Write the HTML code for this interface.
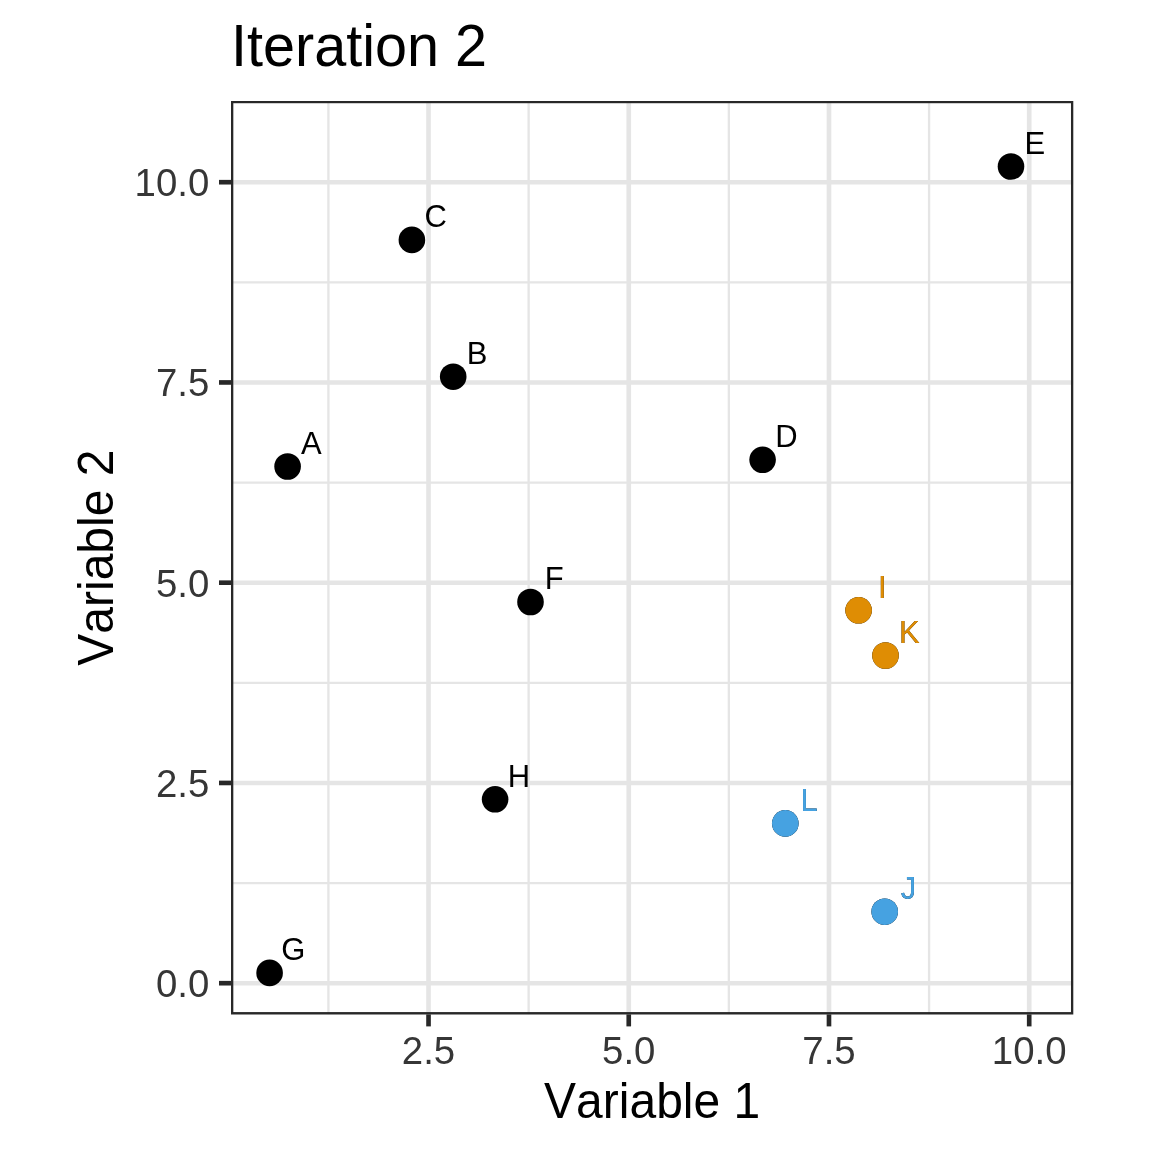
<!DOCTYPE html><html><head><meta charset="utf-8"><title>Iteration 2</title><style>html,body{margin:0;padding:0;background:#fff;}svg{display:block;will-change:transform;}text{font-family:"Liberation Sans",Arial,sans-serif;font-kerning:none;}</style></head><body>
<svg width="1152" height="1152" viewBox="0 0 1152 1152">
<rect x="0" y="0" width="1152" height="1152" fill="#fff"/>
<defs><clipPath id="pc"><rect x="231.0" y="100.9" width="842.30" height="913.50"/></clipPath></defs>
<g clip-path="url(#pc)">
<line x1="328.41" y1="100.9" x2="328.41" y2="1014.4" stroke="#E5E5E5" stroke-width="2.33"/>
<line x1="231.0" y1="883.08" x2="1073.3" y2="883.08" stroke="#E5E5E5" stroke-width="2.33"/>
<line x1="528.64" y1="100.9" x2="528.64" y2="1014.4" stroke="#E5E5E5" stroke-width="2.33"/>
<line x1="231.0" y1="682.83" x2="1073.3" y2="682.83" stroke="#E5E5E5" stroke-width="2.33"/>
<line x1="728.86" y1="100.9" x2="728.86" y2="1014.4" stroke="#E5E5E5" stroke-width="2.33"/>
<line x1="231.0" y1="482.58" x2="1073.3" y2="482.58" stroke="#E5E5E5" stroke-width="2.33"/>
<line x1="929.09" y1="100.9" x2="929.09" y2="1014.4" stroke="#E5E5E5" stroke-width="2.33"/>
<line x1="231.0" y1="282.33" x2="1073.3" y2="282.33" stroke="#E5E5E5" stroke-width="2.33"/>
<line x1="428.53" y1="100.9" x2="428.53" y2="1014.4" stroke="#E5E5E5" stroke-width="4.65"/>
<line x1="628.75" y1="100.9" x2="628.75" y2="1014.4" stroke="#E5E5E5" stroke-width="4.65"/>
<line x1="828.98" y1="100.9" x2="828.98" y2="1014.4" stroke="#E5E5E5" stroke-width="4.65"/>
<line x1="1029.20" y1="100.9" x2="1029.20" y2="1014.4" stroke="#E5E5E5" stroke-width="4.65"/>
<line x1="231.0" y1="983.20" x2="1073.3" y2="983.20" stroke="#E5E5E5" stroke-width="4.65"/>
<line x1="231.0" y1="782.95" x2="1073.3" y2="782.95" stroke="#E5E5E5" stroke-width="4.65"/>
<line x1="231.0" y1="582.70" x2="1073.3" y2="582.70" stroke="#E5E5E5" stroke-width="4.65"/>
<line x1="231.0" y1="382.45" x2="1073.3" y2="382.45" stroke="#E5E5E5" stroke-width="4.65"/>
<line x1="231.0" y1="182.20" x2="1073.3" y2="182.20" stroke="#E5E5E5" stroke-width="4.65"/>
<circle cx="287.6" cy="466.5" r="13.3" fill="#000"/>
<circle cx="453.2" cy="376.7" r="13.3" fill="#000"/>
<circle cx="411.9" cy="239.9" r="13.3" fill="#000"/>
<circle cx="762.6" cy="459.8" r="13.3" fill="#000"/>
<circle cx="1011.0" cy="166.5" r="13.3" fill="#000"/>
<circle cx="530.5" cy="602.0" r="13.3" fill="#000"/>
<circle cx="269.6" cy="972.9" r="13.3" fill="#000"/>
<circle cx="495.1" cy="799.3" r="13.3" fill="#000"/>
<circle cx="858.6" cy="610.3" r="13.3" fill="#000"/>
<circle cx="885.5" cy="655.5" r="13.3" fill="#000"/>
<circle cx="785.3" cy="823.4" r="13.3" fill="#000"/>
<circle cx="884.7" cy="911.7" r="13.3" fill="#000"/>
<circle cx="858.6" cy="610.3" r="13.3" fill="#DF8D04"/>
<circle cx="885.5" cy="655.5" r="13.3" fill="#DF8D04"/>
<circle cx="785.3" cy="823.4" r="13.3" fill="#46A2E1"/>
<circle cx="884.7" cy="911.7" r="13.3" fill="#46A2E1"/>
<text transform="translate(311.40 453.80) scale(1 1.0407)" font-size="31.0" fill="#000" text-anchor="middle">A</text>
<text transform="translate(477.00 364.00) scale(1 1.0407)" font-size="31.0" fill="#000" text-anchor="middle">B</text>
<text transform="translate(435.70 227.20) scale(1 1.0407)" font-size="31.0" fill="#000" text-anchor="middle">C</text>
<text transform="translate(786.40 447.10) scale(1 1.0407)" font-size="31.0" fill="#000" text-anchor="middle">D</text>
<text transform="translate(1034.80 153.80) scale(1 1.0407)" font-size="31.0" fill="#000" text-anchor="middle">E</text>
<text transform="translate(554.30 589.30) scale(1 1.0407)" font-size="31.0" fill="#000" text-anchor="middle">F</text>
<text transform="translate(293.40 960.20) scale(1 1.0407)" font-size="31.0" fill="#000" text-anchor="middle">G</text>
<text transform="translate(518.90 786.60) scale(1 1.0407)" font-size="31.0" fill="#000" text-anchor="middle">H</text>
<text transform="translate(882.40 597.60) scale(1 1.0407)" font-size="31.0" fill="#000" text-anchor="middle">I</text>
<text transform="translate(909.30 642.80) scale(1 1.0407)" font-size="31.0" fill="#000" text-anchor="middle">K</text>
<text transform="translate(809.10 810.70) scale(1 1.0407)" font-size="31.0" fill="#000" text-anchor="middle">L</text>
<text transform="translate(908.50 899.00) scale(1 1.0407)" font-size="31.0" fill="#000" text-anchor="middle">J</text>
<text transform="translate(882.40 597.60) scale(1 1.0407)" font-size="31.0" fill="#DF8D04" text-anchor="middle">I</text>
<text transform="translate(909.30 642.80) scale(1 1.0407)" font-size="31.0" fill="#DF8D04" text-anchor="middle">K</text>
<text transform="translate(809.10 810.70) scale(1 1.0407)" font-size="31.0" fill="#46A2E1" text-anchor="middle">L</text>
<text transform="translate(908.50 899.00) scale(1 1.0407)" font-size="31.0" fill="#46A2E1" text-anchor="middle">J</text>
<rect x="231.0" y="100.9" width="842.30" height="913.50" fill="none" stroke="#282828" stroke-width="4.65"/>
</g>
<line x1="428.53" y1="1014.4" x2="428.53" y2="1026.4" stroke="#282828" stroke-width="4.65"/>
<line x1="628.75" y1="1014.4" x2="628.75" y2="1026.4" stroke="#282828" stroke-width="4.65"/>
<line x1="828.98" y1="1014.4" x2="828.98" y2="1026.4" stroke="#282828" stroke-width="4.65"/>
<line x1="1029.20" y1="1014.4" x2="1029.20" y2="1026.4" stroke="#282828" stroke-width="4.65"/>
<line x1="219.0" y1="983.20" x2="231.0" y2="983.20" stroke="#282828" stroke-width="4.65"/>
<line x1="219.0" y1="782.95" x2="231.0" y2="782.95" stroke="#282828" stroke-width="4.65"/>
<line x1="219.0" y1="582.70" x2="231.0" y2="582.70" stroke="#282828" stroke-width="4.65"/>
<line x1="219.0" y1="382.45" x2="231.0" y2="382.45" stroke="#282828" stroke-width="4.65"/>
<line x1="219.0" y1="182.20" x2="231.0" y2="182.20" stroke="#282828" stroke-width="4.65"/>
<text transform="translate(428.53 1063.8) scale(1 1.0250)" font-size="38.4" fill="#363636" text-anchor="middle">2.5</text>
<text transform="translate(628.75 1063.8) scale(1 1.0250)" font-size="38.4" fill="#363636" text-anchor="middle">5.0</text>
<text transform="translate(828.98 1063.8) scale(1 1.0250)" font-size="38.4" fill="#363636" text-anchor="middle">7.5</text>
<text transform="translate(1029.20 1063.8) scale(1 1.0250)" font-size="38.4" fill="#363636" text-anchor="middle">10.0</text>
<text transform="translate(209.3 997.20) scale(1 1.0250)" font-size="38.4" fill="#363636" text-anchor="end">0.0</text>
<text transform="translate(209.3 796.95) scale(1 1.0250)" font-size="38.4" fill="#363636" text-anchor="end">2.5</text>
<text transform="translate(209.3 596.70) scale(1 1.0250)" font-size="38.4" fill="#363636" text-anchor="end">5.0</text>
<text transform="translate(209.3 396.45) scale(1 1.0250)" font-size="38.4" fill="#363636" text-anchor="end">7.5</text>
<text transform="translate(209.3 196.20) scale(1 1.0250)" font-size="38.4" fill="#363636" text-anchor="end">10.0</text>
<text transform="translate(652.15 1117.9) scale(1 1.0407)" font-size="48.0" fill="#000" text-anchor="middle">Variable 1</text>
<text transform="translate(113.2 557.65) rotate(-90) scale(1 1.0407)" font-size="48.0" fill="#000" text-anchor="middle">Variable 2</text>
<text transform="translate(231.0 66.0) scale(1 1.0407)" font-size="57.6" fill="#000">Iteration 2</text>
</svg></body></html>
